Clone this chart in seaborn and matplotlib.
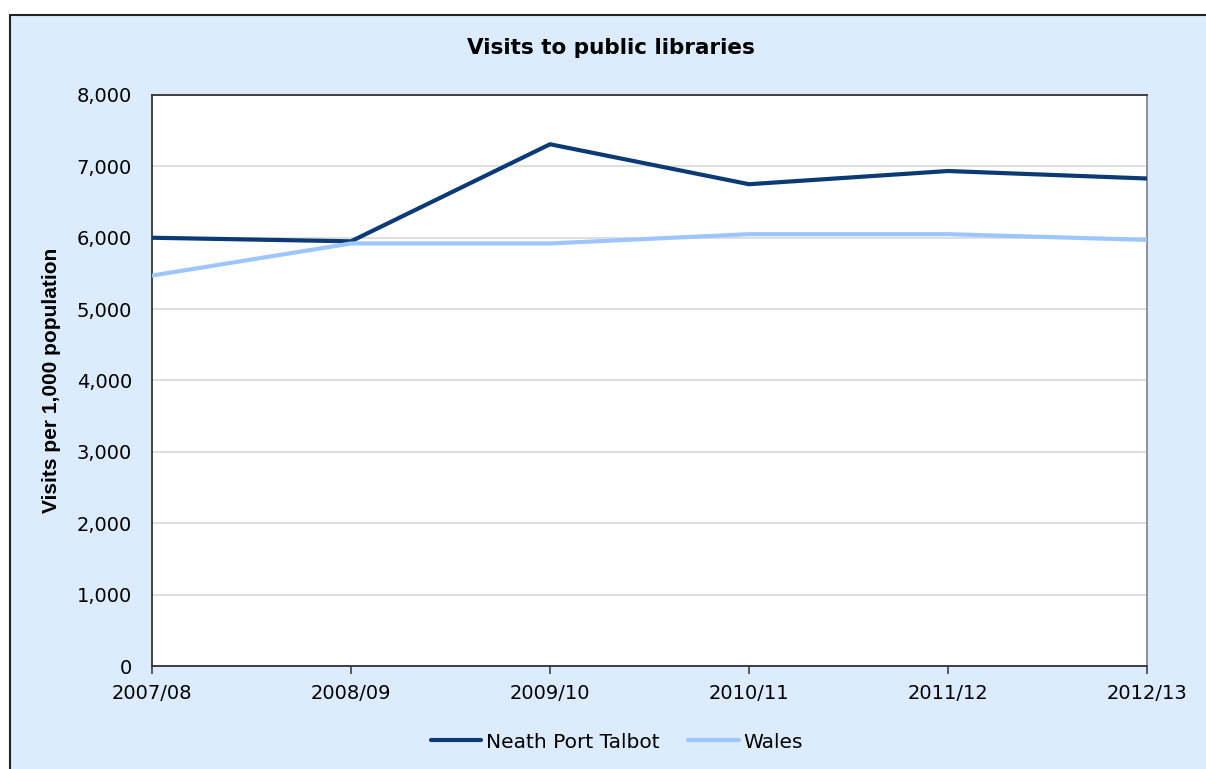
import pandas as pd
import numpy as np
import seaborn as sns
import matplotlib.pyplot as plt
from matplotlib.patches import Rectangle
from matplotlib.ticker import FuncFormatter

years = ['2007/08', '2008/09', '2009/10', '2010/11', '2011/12', '2012/13']
neath_port_talbot = [6000, 5950, 7310, 6750, 6935, 6830]
wales = [5470, 5920, 5920, 6050, 6050, 5970]

df = pd.DataFrame({
    'pos': list(range(len(years))) * 2,
    'visits': neath_port_talbot + wales,
    'area': ['Neath Port Talbot'] * len(years) + ['Wales'] * len(years),
})

sns.set_style('white')
plt.rcParams['font.family'] = ['DejaVu Sans']
plt.rcParams['text.color'] = 'black'
plt.rcParams['xtick.color'] = 'black'
plt.rcParams['ytick.color'] = 'black'
plt.rcParams['axes.labelcolor'] = 'black'

W, H = 1206, 769
fig = plt.figure(figsize=(W / 100, H / 100), dpi=100)
fig.patch.set_facecolor('white')

# light blue chart frame (runs off the right and bottom edges)
frame = Rectangle((10 / W, -10 / H), (W + 10) / W, (H - 5) / H,
                  transform=fig.transFigure, facecolor='#DCEBFD',
                  edgecolor='#222222', linewidth=1.5, zorder=-10)
fig.patches.append(frame)

ax = fig.add_axes([152 / W, (H - 666) / H, 995 / W, 571 / H])
ax.set_facecolor('white')

sns.lineplot(data=df, x='pos', y='visits', hue='area',
             palette={'Neath Port Talbot': '#0B3A75', 'Wales': '#9DC6FF'},
             linewidth=3, ax=ax, sort=False, zorder=3)

ax.set_xlim(0, len(years) - 1)
ax.set_ylim(0, 8000)
ax.set_yticks(range(0, 8001, 1000))
ax.yaxis.set_major_formatter(FuncFormatter(lambda v, p: f'{int(v):,}'))
ax.set_xticks(range(len(years)))
ax.set_xticklabels(years)
ax.grid(axis='y', color='#D9D9D9', linewidth=1.2)
ax.grid(axis='x', visible=False)
ax.tick_params(axis='x', direction='out', length=6, width=1.2, color='#404040',
               labelsize=14, pad=7, bottom=True)
ax.tick_params(axis='y', length=0, labelsize=14, pad=14.5)

for side in ['left', 'bottom', 'top']:
    ax.spines[side].set_color('#333333')
    ax.spines[side].set_linewidth(1.3)
ax.spines['right'].set_color('#888888')
ax.spines['right'].set_linewidth(1.3)

ax.set_xlabel('')
ax.set_ylabel('Visits per 1,000 population', fontsize=15, fontweight='bold',
              family='Liberation Sans', labelpad=11)
fig.text(611 / W, 1 - 48 / H, 'Visits to public libraries', ha='center', va='center',
         fontsize=15.5, fontweight='bold')

handles, labels = ax.get_legend_handles_labels()
ax.legend(handles, labels, loc='center', bbox_to_anchor=(617 / W, 1 - 742 / H),
          bbox_transform=fig.transFigure, ncol=2, frameon=False, fontsize=14.5,
          handlelength=2.5, handletextpad=0.25, columnspacing=1.4)

fig.savefig('out.png', dpi=100)
